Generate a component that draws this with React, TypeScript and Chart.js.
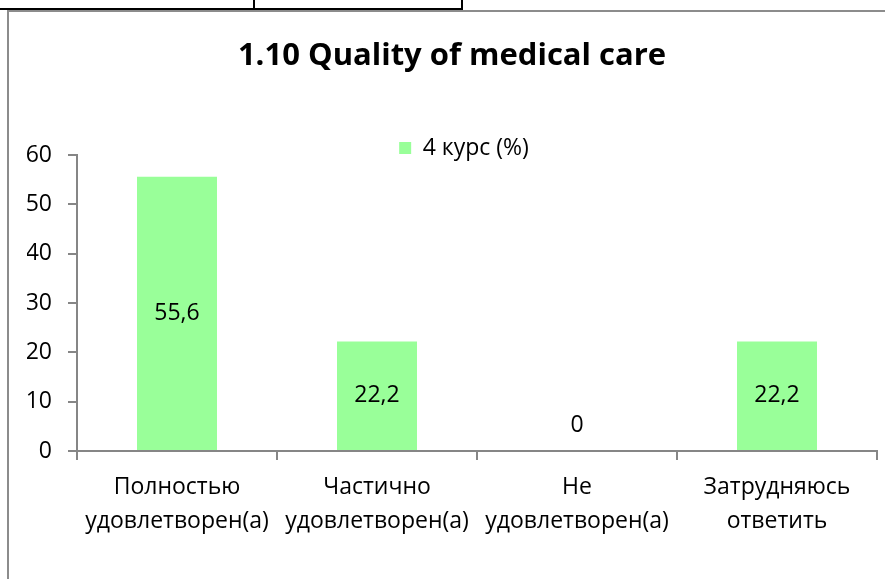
import React, { useEffect, useRef } from "react";
import { Chart, registerables } from "chart.js";

Chart.register(...registerables);

const chartTitle = "1.10 Quality of medical care";
const seriesLabel = "4 курс (%)";
const categories: string[][] = [
  ["Полностью", "удовлетворен(а)"],
  ["Частично", "удовлетворен(а)"],
  ["Не", "удовлетворен(а)"],
  ["Затрудняюсь", "ответить"],
];
const values: number[] = [55.6, 22.2, 0, 22.2];
const yTicks: number[] = [0, 10, 20, 30, 40, 50, 60];

const FONT = "'Open Sans'";
const FS = 23;
const BAR_COLOR = "#99ff99";
const AXIS_COLOR = "#868686";

const valueLabels = {
  id: "valueLabels",
  afterDatasetsDraw(chart: any) {
    const ctx = chart.ctx;
    const meta = chart.getDatasetMeta(0);
    ctx.save();
    ctx.font = `${FS}px ${FONT}`;
    ctx.fillStyle = "#000";
    ctx.textAlign = "center";
    ctx.textBaseline = "middle";
    meta.data.forEach((bar: any, i: number) => {
      const v = values[i];
      const { x, y, base } = bar.getProps(["x", "y", "base"], true);
      const cy = v === 0 ? base - 26 : (y + base) / 2;
      ctx.fillText(String(v).replace(".", ","), x, cy);
    });
    ctx.restore();
  },
};

// Move the legend box (after the chart area is fixed) to where the reference shows it.
const legendShift = {
  id: "legendShift",
  afterLayout(chart: any) {
    const lg = chart.legend;
    if (lg) {
      lg.left += 12;
      lg.right += 12;
      lg.top += 14.5;
      lg.bottom += 14.5;
    }
  },
};

export default function App() {
  const ref = useRef<HTMLCanvasElement | null>(null);

  useEffect(() => {
    if (!ref.current) return;
    const chart = new Chart(ref.current, {
      type: "bar",
      data: {
        labels: categories,
        datasets: [
          {
            label: seriesLabel,
            data: values,
            backgroundColor: BAR_COLOR,
            borderWidth: 0,
            categoryPercentage: 1,
            barPercentage: 0.4,
          },
        ],
      },
      options: {
        responsive: false,
        animation: false,
        layout: { padding: { left: 27, right: 8, top: 0, bottom: 0 } },
        plugins: {
          title: {
            display: true,
            text: chartTitle,
            color: "#000",
            font: { family: FONT, size: 31, weight: "bold", lineHeight: 1.2 },
            padding: { top: 37.9, bottom: 36.9 },
          },
          legend: {
            display: true,
            position: "top",
            labels: {
              color: "#000",
              font: { family: FONT, size: FS },
              boxWidth: 12,
              boxHeight: 12,
              padding: 10,
            },
          },
          tooltip: { enabled: false },
        },
        scales: {
          x: {
            grid: {
              display: true,
              drawOnChartArea: false,
              drawTicks: true,
              tickLength: 9,
              color: AXIS_COLOR,
              lineWidth: 2,
            },
            border: { display: true, color: AXIS_COLOR, width: 2 },
            ticks: {
              color: "#000",
              font: { family: FONT, size: FS, lineHeight: 34 / FS },
              padding: 10,
              maxRotation: 0,
              autoSkip: false,
            },
            afterFit(scale: any) {
              scale.height = 128;
            },
          },
          y: {
            min: yTicks[0],
            max: yTicks[yTicks.length - 1],
            grid: {
              display: true,
              drawOnChartArea: false,
              drawTicks: true,
              tickLength: 9,
              color: AXIS_COLOR,
              lineWidth: 2,
            },
            border: { display: true, color: AXIS_COLOR, width: 2 },
            ticks: {
              stepSize: yTicks[1] - yTicks[0],
              color: "#000",
              font: { family: FONT, size: FS },
              padding: 16,
            },
            afterFit(scale: any) {
              scale.width = 50;
            },
          },
        },
      },
      plugins: [valueLabels, legendShift],
    });
    return () => chart.destroy();
  }, []);

  return (
    <div style={{ position: "absolute", left: 0, top: 0, width: 885, height: 579, background: "#fff", overflow: "hidden" }}>
      <canvas ref={ref} width={885} height={579} style={{ display: "block" }} />
      <div style={{ position: "absolute", left: 0, top: 8, width: 463, height: 2, background: "#000" }} />
      <div style={{ position: "absolute", left: 253, top: 0, width: 2, height: 9, background: "#000" }} />
      <div style={{ position: "absolute", left: 461, top: 0, width: 2, height: 9, background: "#000" }} />
      <div style={{ position: "absolute", left: 8, top: 10, width: 877, height: 2, background: "#8c8c8c" }} />
      <div style={{ position: "absolute", left: 7, top: 10, width: 2, height: 569, background: "#8c8c8c" }} />
    </div>
  );
}
